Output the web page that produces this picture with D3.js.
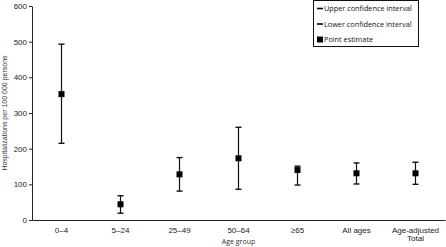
<!DOCTYPE html>
<html>
<head>
<meta charset="utf-8">
<script src="https://cdn.jsdelivr.net/npm/d3@7"></script>
<style>
  body { margin: 0; background: #fff; }
  svg { display: block; }
</style>
</head>
<body>
<div id="chart"></div>
<script>
const groups = ['0–4', '5–24', '25–49', '50–64', '≥65', 'All ages', 'Age-adjusted Total'];
const pointEst = [353, 44, 128, 173, 140, 131, 131];
const upperCI = [493, 68, 175, 260, 151, 160, 162];
const lowerCI = [215, 19, 81, 86, 98, 101, 100];
const yTicks = [0, 100, 200, 300, 400, 500, 600];

const W = 446, H = 247;
const margin = { top: 6, right: 1, bottom: 27, left: 32 };

const svg = d3.select('#chart').append('svg')
  .attr('width', W).attr('height', H);

const x = d3.scaleBand()
  .domain(groups)
  .range([margin.left, W - margin.right]);

const y = d3.scaleLinear()
  .domain([0, 600])
  .range([H - margin.bottom, margin.top]);

// y axis
const yAxis = svg.append('g')
  .attr('transform', `translate(${margin.left},0)`)
  .call(d3.axisLeft(y).tickValues(yTicks).tickSize(3).tickPadding(2).tickSizeOuter(0));
yAxis.selectAll('text')
  .attr('font-family', 'Liberation Sans, Arial, sans-serif')
  .attr('font-size', '8px').attr('fill', '#222');
yAxis.selectAll('line, path').attr('stroke', '#222');

svg.append('text')
  .attr('transform', `translate(7,${(y(0) + y(600)) / 2}) rotate(-90)`)
  .attr('text-anchor', 'middle')
  .attr('font-family', 'Liberation Sans, Arial, sans-serif')
  .attr('font-size', '7px').attr('fill', '#333')
  .text('Hospitalizations per 100 000 persons');

// x axis
const xAxis = svg.append('g')
  .attr('transform', `translate(0,${y(0)})`)
  .call(d3.axisBottom(x).tickSize(0).tickSizeOuter(0).tickPadding(7));
xAxis.select('path').attr('stroke', '#222');
xAxis.selectAll('text')
  .attr('font-family', 'Liberation Sans, Arial, sans-serif')
  .attr('font-size', '8px').attr('fill', '#222')
  .each(function (d) {
    if (d === 'Age-adjusted Total') {
      const t = d3.select(this).text(null);
      t.append('tspan').attr('x', 0).text('Age-adjusted');
      t.append('tspan').attr('x', 0).attr('dy', '1.1em').text('Total');
    }
  });

svg.append('text')
  .attr('x', (x.range()[0] + x.range()[1]) / 2).attr('y', 244)
  .attr('text-anchor', 'middle')
  .attr('font-family', 'Open Sans, sans-serif')
  .attr('font-size', '7px').attr('fill', '#333')
  .text('Age group');

// error bars
const rows = groups.map((g, i) => ({ g, p: pointEst[i], hi: upperCI[i], lo: lowerCI[i] }));
const cx = d => x(d.g) + x.bandwidth() / 2;
const bars = svg.append('g').selectAll('g').data(rows).enter().append('g');
bars.append('line')
  .attr('x1', cx).attr('x2', cx)
  .attr('y1', d => y(d.hi)).attr('y2', d => y(d.lo))
  .attr('stroke', '#111').attr('stroke-width', 1.2);
bars.append('line')
  .attr('x1', d => cx(d) - 3).attr('x2', d => cx(d) + 3)
  .attr('y1', d => y(d.hi)).attr('y2', d => y(d.hi))
  .attr('stroke', '#111').attr('stroke-width', 1.4);
bars.append('line')
  .attr('x1', d => cx(d) - 3).attr('x2', d => cx(d) + 3)
  .attr('y1', d => y(d.lo)).attr('y2', d => y(d.lo))
  .attr('stroke', '#111').attr('stroke-width', 1.4);
bars.append('rect')
  .attr('x', d => cx(d) - 3).attr('y', d => y(d.p) - 3)
  .attr('width', 6).attr('height', 6)
  .attr('fill', '#000');

// legend
const legend = svg.append('g').attr('transform', 'translate(313,0)');
legend.append('rect')
  .attr('x', 0.5).attr('y', 0.5).attr('width', 105).attr('height', 46)
  .attr('fill', '#fff').attr('stroke', '#111').attr('stroke-width', 1);
const legendItems = ['Upper confidence interval', 'Lower confidence interval', 'Point estimate'];
legendItems.forEach((label, i) => {
  const yy = 8.5 + i * 15.5;
  if (i < 2) {
    legend.append('line')
      .attr('x1', 4).attr('x2', 10).attr('y1', yy).attr('y2', yy)
      .attr('stroke', '#000').attr('stroke-width', 1.6);
  } else {
    legend.append('rect')
      .attr('x', 4).attr('y', yy - 3).attr('width', 6).attr('height', 6)
      .attr('fill', '#000');
  }
  legend.append('text')
    .attr('x', 11).attr('y', yy).attr('dy', '0.35em')
    .attr('font-family', 'Open Sans, sans-serif')
    .attr('font-size', '7.3px').attr('fill', '#111')
    .text(label);
});
</script>
</body>
</html>
